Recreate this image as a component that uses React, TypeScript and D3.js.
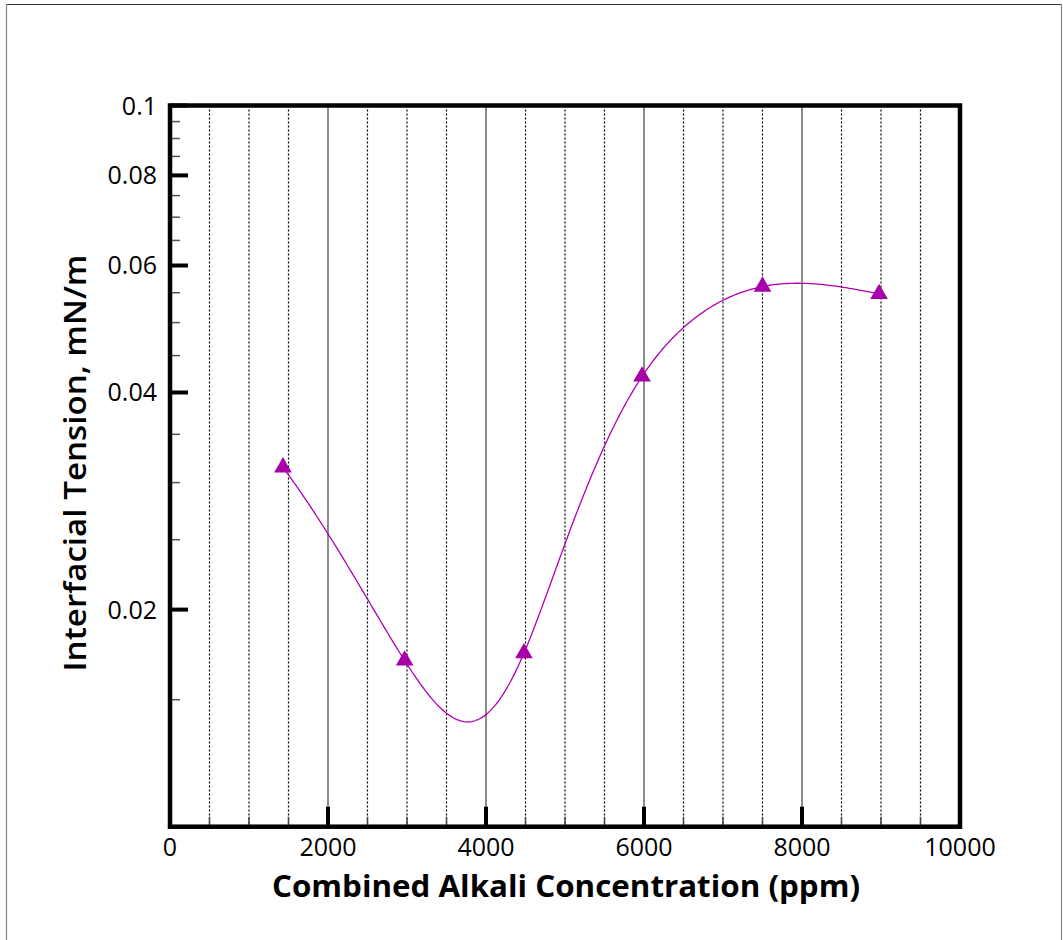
import React from "react";
import * as d3 from "d3";

const concentrations = [1430, 2970, 4480, 5975, 7500, 8975];
const tensions = [0.0315, 0.017, 0.0174, 0.0421, 0.0561, 0.0548];
const xMajorTicks = [0, 2000, 4000, 6000, 8000, 10000];
const xMinorTicks = [500, 1000, 1500, 2500, 3000, 3500, 4500, 5000, 5500, 6500, 7000, 7500, 8500, 9000, 9500];
const yMajorTicks = [0.02, 0.04, 0.06, 0.08, 0.1];
const yMajorLabels = ["0.02", "0.04", "0.06", "0.08", "0.1"];
const yMinorTicks = [0.015, 0.025, 0.03, 0.035, 0.045, 0.05, 0.055, 0.065, 0.07, 0.075, 0.085, 0.09, 0.095];

const W = 1063;
const H = 940;
const left = 170;
const right = 960;
const top = 105.5;
const bottom = 826.7;

// natural cubic spline in data space (linear x, linear y)
function naturalSpline(xs: number[], ys: number[]) {
  const n = xs.length;
  const h: number[] = [];
  for (let i = 0; i < n - 1; i++) h.push(xs[i + 1] - xs[i]);
  const a: number[] = new Array(n).fill(0);
  const b: number[] = new Array(n).fill(0);
  const c: number[] = new Array(n).fill(0);
  const d: number[] = new Array(n).fill(0);
  b[0] = 1; b[n - 1] = 1;
  for (let i = 1; i < n - 1; i++) {
    a[i] = h[i - 1];
    b[i] = 2 * (h[i - 1] + h[i]);
    c[i] = h[i];
    d[i] = 6 * ((ys[i + 1] - ys[i]) / h[i] - (ys[i] - ys[i - 1]) / h[i - 1]);
  }
  // Thomas algorithm
  const cp = [...c];
  const dp = [...d];
  cp[0] = c[0] / b[0];
  dp[0] = d[0] / b[0];
  for (let i = 1; i < n; i++) {
    const m = b[i] - a[i] * cp[i - 1];
    cp[i] = c[i] / m;
    dp[i] = (d[i] - a[i] * dp[i - 1]) / m;
  }
  const M: number[] = new Array(n).fill(0);
  M[n - 1] = dp[n - 1];
  for (let i = n - 2; i >= 0; i--) M[i] = dp[i] - cp[i] * M[i + 1];
  return (x: number) => {
    let i = 0;
    while (i < n - 2 && x > xs[i + 1]) i++;
    const t1 = xs[i + 1] - x;
    const t0 = x - xs[i];
    const hi = h[i];
    return (
      (M[i] * t1 * t1 * t1) / (6 * hi) +
      (M[i + 1] * t0 * t0 * t0) / (6 * hi) +
      (ys[i] / hi - (M[i] * hi) / 6) * t1 +
      (ys[i + 1] / hi - (M[i + 1] * hi) / 6) * t0
    );
  };
}

export default function App() {
  const x = d3.scaleLinear().domain([0, 10000]).range([left, right]);
  const y = d3.scaleLog().domain([0.01, 0.1]).range([bottom, top]);
  const pts: [number, number][] = concentrations.map((c, i) => [x(c), y(tensions[i])]);
  const f = naturalSpline(concentrations, tensions);
  const x0 = concentrations[0];
  const x1 = concentrations[concentrations.length - 1];
  const samples: [number, number][] = d3.range(0, 301).map((k) => {
    const xv = x0 + ((x1 - x0) * k) / 300;
    return [x(xv), y(f(xv))];
  });
  const line = d3.line()(samples) || "";
  const tri = d3.symbol().type(d3.symbolTriangle).size(135)() || "";
  const font = "'Open Sans', sans-serif";
  return (
    <svg width={W} height={H} style={{ position: "absolute", left: 0, top: 0, background: "#fff" }}>
      <rect x={0} y={0} width={W} height={H} fill="#fff" />
      <line x1={6.5} y1={4.5} x2={1061.5} y2={4.5} stroke="#333" strokeWidth={1.2} />
      <line x1={6.5} y1={4.5} x2={6.5} y2={H} stroke="#888" strokeWidth={1.2} />
      <line x1={1061.5} y1={4.5} x2={1061.5} y2={H} stroke="#888" strokeWidth={1.2} />

      {xMinorTicks.map((t) => (
        <line key={"gm" + t} x1={x(t)} x2={x(t)} y1={top} y2={bottom} stroke="#000" strokeWidth={1.2} strokeDasharray="2,2" />
      ))}
      {xMajorTicks.slice(1, -1).map((t) => (
        <line key={"gM" + t} x1={x(t)} x2={x(t)} y1={top} y2={bottom} stroke="#666" strokeWidth={1.5} />
      ))}
      {xMinorTicks.map((t) => (
        <line key={"tm" + t} x1={x(t)} x2={x(t)} y1={bottom - 10} y2={bottom} stroke="#444" strokeWidth={1.5} />
      ))}
      {xMajorTicks.map((t) => (
        <line key={"tM" + t} x1={x(t)} x2={x(t)} y1={bottom - 20} y2={bottom} stroke="#000" strokeWidth={4} />
      ))}
      {yMinorTicks.map((t) => (
        <line key={"ym" + t} x1={left} x2={left + 10} y1={y(t)} y2={y(t)} stroke="#555" strokeWidth={1.5} />
      ))}
      {yMajorTicks.map((t) => (
        <line key={"yM" + t} x1={left} x2={left + 18} y1={y(t)} y2={y(t)} stroke="#000" strokeWidth={4} />
      ))}

      <rect x={left} y={top} width={right - left} height={bottom - top} fill="none" stroke="#000" strokeWidth={4.5} />

      <path d={line} fill="none" stroke="#B000B0" strokeWidth={1.3} />
      {pts.map((p, i) => (
        <path key={"p" + i} d={tri} transform={`translate(${p[0]},${p[1]})`} fill="#A800A8" />
      ))}

      {yMajorTicks.map((t, i) => (
        <text key={"yl" + t} x={157} y={y(t) + 9} textAnchor="end" fontFamily={font} fontSize={25} fill="#000">
          {yMajorLabels[i]}
        </text>
      ))}
      {xMajorTicks.map((t) => (
        <text key={"xl" + t} x={x(t)} y={856} textAnchor="middle" fontFamily={font} fontSize={25} fill="#000">
          {t}
        </text>
      ))}
      <text x={566} y={897} textAnchor="middle" fontFamily={font} fontSize={31} fontWeight={700} textLength={588} lengthAdjust="spacingAndGlyphs">
        Combined Alkali Concentration (ppm)
      </text>
      <text transform={`translate(86,463) rotate(-90)`} textAnchor="middle" fontFamily={font} fontSize={31} fontWeight={600} textLength={417} lengthAdjust="spacingAndGlyphs">
        Interfacial Tension, mN/m
      </text>
    </svg>
  );
}
